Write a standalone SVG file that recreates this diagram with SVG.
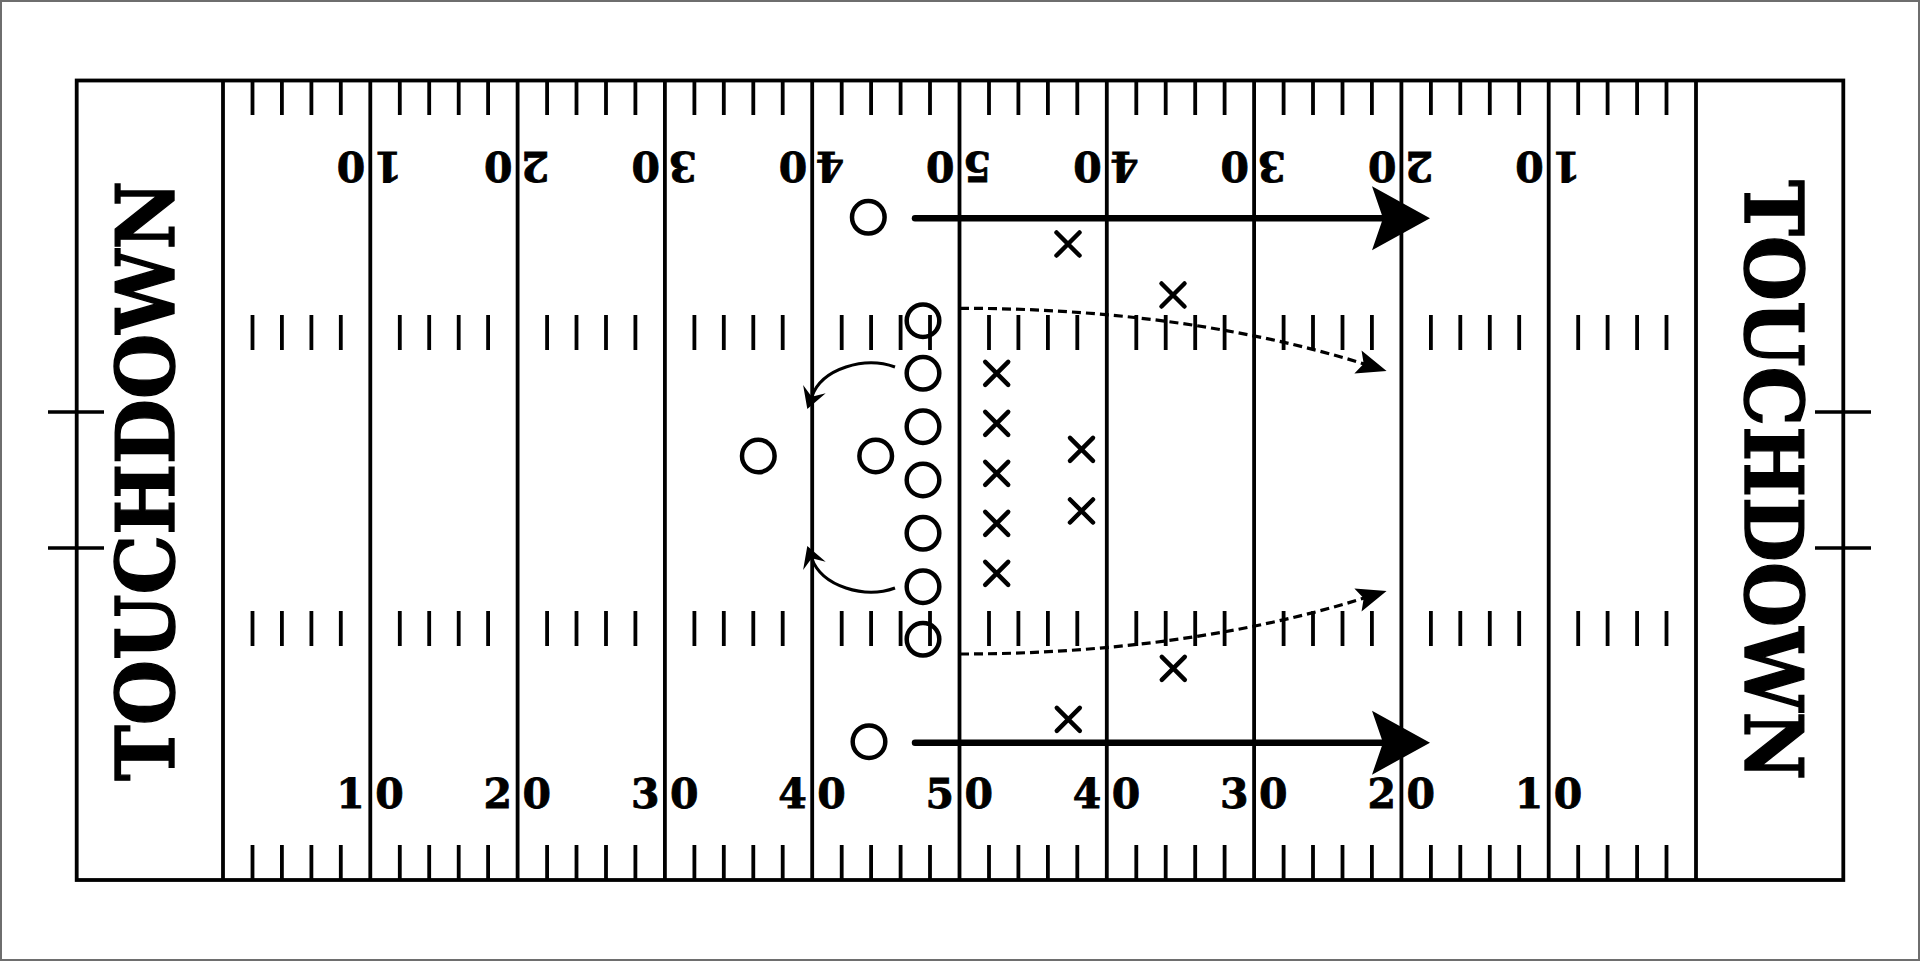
<svg xmlns="http://www.w3.org/2000/svg" xmlns:xlink="http://www.w3.org/1999/xlink" width="1920" height="961" viewBox="0 0 1920 961">
<style>
.ln{fill:none;stroke:#000;stroke-width:3.8}
.tick{fill:none;stroke:#000;stroke-width:3.8}
.side{fill:none;stroke:#000;stroke-width:3.6}
.num{font-family:"DejaVu Serif","Liberation Serif",serif;font-weight:bold;font-size:41px;fill:#000;stroke:#000;stroke-width:0.8}
.td{font-family:"DejaVu Serif","Liberation Serif",serif;font-weight:bold;font-size:80px;fill:#000;stroke:#000;stroke-width:1.4}
.o{fill:none;stroke:#000;stroke-width:4.5}
.x{fill:none;stroke:#000;stroke-width:4.5;stroke-linecap:round}
.run{fill:none;stroke:#000;stroke-width:6.5;stroke-linecap:round}
.pass{fill:none;stroke:#000;stroke-width:3.2;stroke-dasharray:9 5}
.block{fill:none;stroke:#000;stroke-width:3}
</style>
<defs>
<marker id="bigHead" markerUnits="userSpaceOnUse" viewBox="-15 -34 62 68" markerWidth="62" markerHeight="68" refX="0" refY="0" orient="auto" overflow="visible"><path d="M45,0 L-13,-32 L-2,0 L-13,32 Z" fill="#000"/></marker>
<marker id="dashHead" markerUnits="userSpaceOnUse" viewBox="-10 -14 34 28" markerWidth="34" markerHeight="28" refX="0" refY="0" orient="auto" overflow="visible"><path d="M22,0 L-8,-12 L-2,0 L-8,12 Z" fill="#000"/></marker>
<marker id="curveHead" markerUnits="userSpaceOnUse" viewBox="-10 -14 25 28" markerWidth="25" markerHeight="28" refX="0" refY="0" orient="auto" overflow="visible"><path d="M13,0 L-8,-12 L0,0 L-8,12 Z" fill="#000"/></marker>
<path id="tickrow" d="M252.5 0v35M281.9 0v35M311.4 0v35M340.8 0v35M399.8 0v35M429.2 0v35M458.7 0v35M488.1 0v35M547.1 0v35M576.5 0v35M606 0v35M635.4 0v35M694.4 0v35M723.8 0v35M753.3 0v35M782.7 0v35M841.7 0v35M871.1 0v35M900.6 0v35M930 0v35M989 0v35M1018.4 0v35M1047.9 0v35M1077.3 0v35M1136.3 0v35M1165.7 0v35M1195.2 0v35M1224.6 0v35M1283.6 0v35M1313 0v35M1342.5 0v35M1371.9 0v35M1430.9 0v35M1460.3 0v35M1489.8 0v35M1519.2 0v35M1578.2 0v35M1607.6 0v35M1637.1 0v35M1666.5 0v35"/>
<path id="xmark" d="M-11.5,-11.5 L11.5,11.5 M11.5,-11.5 L-11.5,11.5"/>
</defs>
<rect x="1" y="1" width="1918" height="959" fill="#fff" stroke="#6e6e6e" stroke-width="2"/>

<g id="field">
<rect class="ln" x="76.7" y="80.5" width="1766.6" height="799.5"/>
<path class="ln" d="M223 80.5V880M370.3 80.5V880M517.6 80.5V880M664.9 80.5V880M812.2 80.5V880M959.5 80.5V880M1106.8 80.5V880M1254.1 80.5V880M1401.4 80.5V880M1548.7 80.5V880M1696 80.5V880"/>
<g class="tick">
<use xlink:href="#tickrow" href="#tickrow" y="80"/>
<use xlink:href="#tickrow" href="#tickrow" y="315"/>
<use xlink:href="#tickrow" href="#tickrow" y="611"/>
<use xlink:href="#tickrow" href="#tickrow" y="845"/>
</g>
<path class="side" d="M48 412H104M48 548H104M1815 412H1871M1815 548H1871"/>
<text class="td" x="174" y="481" text-anchor="middle" textLength="600" lengthAdjust="spacingAndGlyphs" transform="rotate(-90 174 481)">TOUCHDOWN</text>
<text class="td" x="1745" y="480" text-anchor="middle" textLength="600" lengthAdjust="spacingAndGlyphs" transform="rotate(90 1745 480)">TOUCHDOWN</text>
</g>

<g id="numbers-bottom">
<text class="num" y="808.3"><tspan x="336.3">1</tspan><tspan x="375.3">0</tspan></text>
<text class="num" y="808.3"><tspan x="483.6">2</tspan><tspan x="522.6">0</tspan></text>
<text class="num" y="808.3"><tspan x="630.9">3</tspan><tspan x="669.9">0</tspan></text>
<text class="num" y="808.3"><tspan x="778.2">4</tspan><tspan x="817.2">0</tspan></text>
<text class="num" y="808.3"><tspan x="925.5">5</tspan><tspan x="964.5">0</tspan></text>
<text class="num" y="808.3"><tspan x="1072.8">4</tspan><tspan x="1111.8">0</tspan></text>
<text class="num" y="808.3"><tspan x="1220.1">3</tspan><tspan x="1259.1">0</tspan></text>
<text class="num" y="808.3"><tspan x="1367.4">2</tspan><tspan x="1406.4">0</tspan></text>
<text class="num" y="808.3"><tspan x="1514.7">1</tspan><tspan x="1553.7">0</tspan></text>
</g>
<g id="numbers-top">
<text class="num" y="181.7" transform="rotate(180 370.3 166.7)"><tspan x="338.3">1</tspan><tspan x="375.3">0</tspan></text>
<text class="num" y="181.7" transform="rotate(180 517.6 166.7)"><tspan x="485.6">2</tspan><tspan x="522.6">0</tspan></text>
<text class="num" y="181.7" transform="rotate(180 664.9 166.7)"><tspan x="632.9">3</tspan><tspan x="669.9">0</tspan></text>
<text class="num" y="181.7" transform="rotate(180 812.2 166.7)"><tspan x="780.2">4</tspan><tspan x="817.2">0</tspan></text>
<text class="num" y="181.7" transform="rotate(180 959.5 166.7)"><tspan x="927.5">5</tspan><tspan x="964.5">0</tspan></text>
<text class="num" y="181.7" transform="rotate(180 1106.8 166.7)"><tspan x="1074.8">4</tspan><tspan x="1111.8">0</tspan></text>
<text class="num" y="181.7" transform="rotate(180 1254.1 166.7)"><tspan x="1222.1">3</tspan><tspan x="1259.1">0</tspan></text>
<text class="num" y="181.7" transform="rotate(180 1401.4 166.7)"><tspan x="1369.4">2</tspan><tspan x="1406.4">0</tspan></text>
<text class="num" y="181.7" transform="rotate(180 1548.7 166.7)"><tspan x="1516.7">1</tspan><tspan x="1553.7">0</tspan></text>
</g>

<g id="offense">
<g id="o-wr-top"><circle class="o" cx="868.3" cy="217.3" r="16.3"/></g>
<g id="o-wr-bottom"><circle class="o" cx="869" cy="741.7" r="16.3"/></g>
<g id="o-line-1"><circle class="o" cx="923" cy="320.7" r="16.3"/></g>
<g id="o-line-2"><circle class="o" cx="923" cy="373.3" r="16.3"/></g>
<g id="o-line-3"><circle class="o" cx="923" cy="426.7" r="16.3"/></g>
<g id="o-line-4"><circle class="o" cx="923" cy="480" r="16.3"/></g>
<g id="o-line-5"><circle class="o" cx="923" cy="533.3" r="16.3"/></g>
<g id="o-line-6"><circle class="o" cx="923" cy="586.7" r="16.3"/></g>
<g id="o-line-7"><circle class="o" cx="923" cy="639.3" r="16.3"/></g>
<g id="o-back-1"><circle class="o" cx="758.3" cy="456" r="16.3"/></g>
<g id="o-back-2"><circle class="o" cx="875.7" cy="456" r="16.3"/></g>
</g>

<g id="defense" class="x">
<g id="x-1"><use xlink:href="#xmark" href="#xmark" x="1068" y="244"/></g>
<g id="x-2"><use xlink:href="#xmark" href="#xmark" x="1173" y="295"/></g>
<g id="x-3"><use xlink:href="#xmark" href="#xmark" x="996.7" y="373.3"/></g>
<g id="x-4"><use xlink:href="#xmark" href="#xmark" x="996.7" y="423.3"/></g>
<g id="x-5"><use xlink:href="#xmark" href="#xmark" x="996.7" y="473.3"/></g>
<g id="x-6"><use xlink:href="#xmark" href="#xmark" x="996.7" y="523.3"/></g>
<g id="x-7"><use xlink:href="#xmark" href="#xmark" x="996.7" y="573.3"/></g>
<g id="x-8"><use xlink:href="#xmark" href="#xmark" x="1081.5" y="449.3"/></g>
<g id="x-9"><use xlink:href="#xmark" href="#xmark" x="1081.5" y="511"/></g>
<g id="x-10"><use xlink:href="#xmark" href="#xmark" x="1173.3" y="668.3"/></g>
<g id="x-11"><use xlink:href="#xmark" href="#xmark" x="1068.3" y="719.3"/></g>
</g>

<g id="connectors">
<path class="run" d="M915 218.3H1385" marker-end="url(#bigHead)"/>
<path class="run" d="M915 742.7H1385" marker-end="url(#bigHead)"/>
<path class="pass" d="M960 308.3C1100 308.3 1240 325 1365.6 364.4" marker-end="url(#dashHead)"/>
<path class="pass" d="M960 654C1100 654 1240 637 1365.6 597.6" marker-end="url(#dashHead)"/>
<path class="block" d="M895 367C865 356 822 368 811.7 396.7" marker-end="url(#curveHead)"/>
<path class="block" d="M895 588C865 599 822 587 811.7 558.3" marker-end="url(#curveHead)"/>
</g>
</svg>
